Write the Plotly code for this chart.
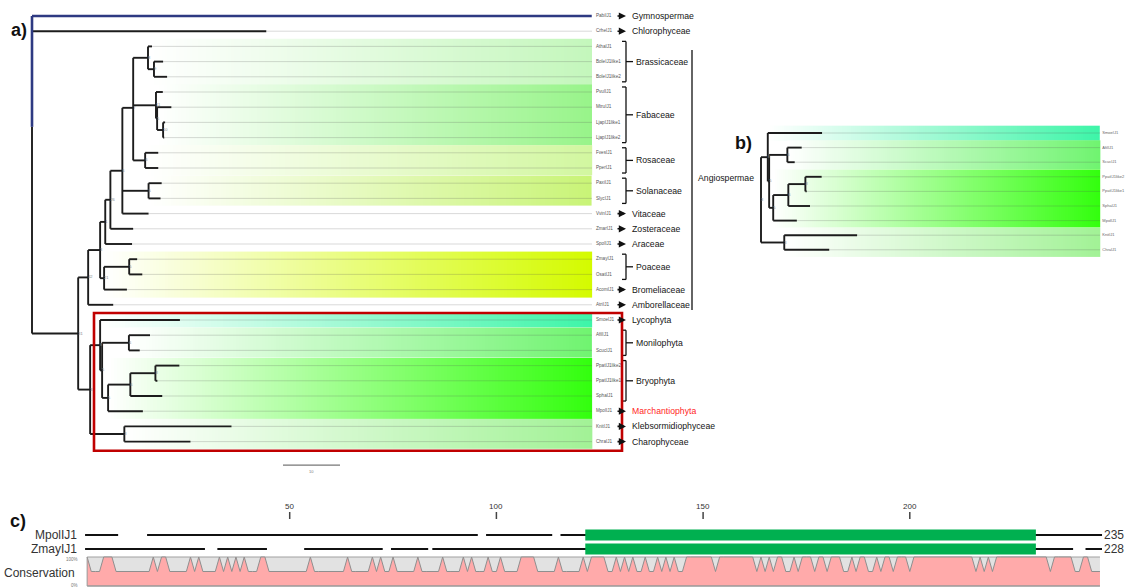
import plotly.graph_objects as go

# ======================= DATA =======================
# Tree clades: leaf = (name, branch length); clade = ([children], branch length, support)
BRASSICACEAE = ([("AthaIJ1", 0.7),
                 ([("BoleIJ1like1", 1.6), ("BoleIJ1like2", 2.3)], 1.05, 9)], 2.6, 8)
FABACEAE = ([("PvulIJ1", 1.2),
             ([("MtruIJ1", 2.5),
               ([("LjapIJ1like1", 0.35), ("LjapIJ1like2", 0.2)], 1.05, 10)], 0.2, 5)], 4.0, 11)
ROSACEAE = ([("FvesIJ1", 2.3), ("PperIJ1", 2.3)], 2.1, 6)
SOLANACEAE = ([("PaxiIJ1", 2.3), ("SlycIJ1", 2.1)], 4.6, 5)
EUDICOTS = ([BRASSICACEAE, FABACEAE, ROSACEAE], 1.9, 7)
CORE = ([EUDICOTS, SOLANACEAE, ("VvinIJ1", 4.6)], 2.1, 6)
N110 = ([CORE, ("ZmarIJ1", 4.0)], 0.9, 26)
N105 = ([N110, ("SpolIJ1", 4.7)], 0.9, 1)
POALES = ([([("ZmayIJ1", 1.4), ("OsatIJ1", 2.3)], 4.4, 5), ("AcomIJ1", 4.0)], 0.7, 21)
N100 = ([N105, POALES], 2.1, 3)
ANGIO = ([N100, ("AtriIJ1", 4.4)], 1.75, 42)
FERNS = ([("AfilIJ1", 3.7), ("ScucIJ1", 1.9)], 4.7, 6)
BRYO = ([([("PpatIJ1like2", 4.2), ("PpatIJ1like1", 0.35)], 4.4, 8), ("SphaIJ1", 5.6)], 3.9, 6)
BRYO_MPOL = ([BRYO, ("MpolIJ1", 6.1)], 1.05, 5)
LAND = ([("SmoeIJ1", 14.0), ([FERNS, BRYO_MPOL], 0.35, 5)], 1.75, 8)
CHARO = ([("KnitIJ1", 18.8), ("ChraIJ1", 11.6)], 6.0, 3)
NONSEED = ([LAND, CHARO], 2.1, 3)
ROOT2 = ([ANGIO, NONSEED], 8.1, 31)
TREE = ([("PabiIJ1", 98.2), ("CrheIJ1", 41.1), ROOT2], 0.0, None)

HIGHLIGHT_LEAF = "PabiIJ1"
SCALE_BAR = 10

GROUPS_A = [
    ("Gymnospermae", "PabiIJ1", "PabiIJ1"),
    ("Chlorophyceae", "CrheIJ1", "CrheIJ1"),
    ("Brassicaceae", "AthaIJ1", "BoleIJ1like2"),
    ("Fabaceae", "PvulIJ1", "LjapIJ1like2"),
    ("Rosaceae", "FvesIJ1", "PperIJ1"),
    ("Solanaceae", "PaxiIJ1", "SlycIJ1"),
    ("Vitaceae", "VvinIJ1", "VvinIJ1"),
    ("Zosteraceae", "ZmarIJ1", "ZmarIJ1"),
    ("Araceae", "SpolIJ1", "SpolIJ1"),
    ("Poaceae", "ZmayIJ1", "OsatIJ1"),
    ("Bromeliaceae", "AcomIJ1", "AcomIJ1"),
    ("Amborellaceae", "AtriIJ1", "AtriIJ1"),
    ("Lycophyta", "SmoeIJ1", "SmoeIJ1"),
    ("Monilophyta", "AfilIJ1", "ScucIJ1"),
    ("Bryophyta", "PpatIJ1like2", "SphaIJ1"),
    ("Marchantiophyta", "MpolIJ1", "MpolIJ1"),
    ("Klebsormidiophyceae", "KnitIJ1", "KnitIJ1"),
    ("Charophyceae", "ChraIJ1", "ChraIJ1"),
]
SUPER_GROUP = ("Angiospermae", "AthaIJ1", "AtriIJ1")
FOCUS_GROUP = "MpolIJ1"

BANDS_A = [("AthaIJ1", "BoleIJ1like2"), ("PvulIJ1", "LjapIJ1like2"), ("FvesIJ1", "PperIJ1"),
           ("PaxiIJ1", "SlycIJ1"), ("ZmayIJ1", "AcomIJ1"), ("SmoeIJ1", "SmoeIJ1"),
           ("AfilIJ1", "ScucIJ1"), ("PpatIJ1like2", "MpolIJ1"), ("KnitIJ1", "ChraIJ1")]
BAND_COLORS_A = ["#c4f7bc", "#98f48a", "#d2f7a0", "#c9f477", "#d4fb00",
                 "#3ef5a8", "#70f470", "#33ff0e", "#a2f296"]
BANDS_B = [("SmoeIJ1", "SmoeIJ1"), ("AfilIJ1", "ScucIJ1"), ("PpatIJ1like2", "MpolIJ1"),
           ("KnitIJ1", "ChraIJ1")]
BAND_COLORS_B = ["#3ef5a8", "#70f470", "#33ff0e", "#a2f296"]
LEAVES_B = ["SmoeIJ1", "AfilIJ1", "ScucIJ1", "PpatIJ1like2", "PpatIJ1like1",
            "SphaIJ1", "MpolIJ1", "KnitIJ1", "ChraIJ1"]

# Alignment (panel c)
ALN_LEN = 246
SEQ_NAMES = ["MpolIJ1", "ZmayIJ1"]
SEQ_SEGMENTS = [
    [(1, 8), (16, 95), (98, 113), (116, 246)],
    [(1, 29), (33, 44), (54, 72), (75, 83), (85, 239), (243, 246)],
]
DOMAIN = (122, 230)
RULER_TICKS = [50, 100, 150, 200]
CONSERVED_RUNS = [(1, 1), (5, 7), (17, 17), (19, 20), (26, 26), (28, 28), (33, 33), (35, 35),
                  (37, 37), (39, 39), (43, 44), (55, 55), (64, 64), (70, 70), (72, 72), (75, 75),
                  (81, 81), (87, 87), (92, 92), (94, 94), (98, 98), (101, 101), (106, 109),
                  (115, 115), (121, 121), (123, 126), (129, 129), (131, 131), (133, 133),
                  (136, 136), (139, 139), (141, 141), (143, 143), (146, 152), (154, 162),
                  (164, 164), (166, 166), (168, 169), (172, 172), (174, 176), (178, 179),
                  (181, 183), (186, 186), (188, 189), (192, 192), (194, 195), (197, 199),
                  (201, 215), (217, 217), (219, 219), (221, 233), (235, 239), (242, 243)]
LOW_CONSERVATION = 0.5

# ======================= GEOMETRY / STYLE =======================
W, H = 1129, 588
FN = "Liberation Sans, Arial, sans-serif"
FA = "Liberation Sans, Arial, sans-serif"
GROUP_FS = 8.7
A_X0, A_SC, A_Y0, A_DY = 32.0, 5.7, 16.0, 15.2
B_X0, B_SC, B_Y0, B_DY = 761.0, 3.876, 133.0, 14.6
C_X0, C_SC, C_Y0, C_SY = 83.0, 4.134, 586.0, 29.0
A_LABEL_PX, B_LABEL_PX = 592.0, 1100.0
TREE_COL, HL_COL = "#1c1c1c", "#2e3a82"


def layout_tree(node, x_parent, leaves, clades):
    if isinstance(node[0], str):
        name, bl = node
        info = {"x": x_parent + bl, "y": len(leaves), "leaf": name, "names": [name]}
        leaves.append(info)
        return info
    kids, bl, sup = node
    x = x_parent + bl
    ch = [layout_tree(k, x, leaves, clades) for k in kids]
    info = {"x": x, "y": sum(c["y"] for c in ch) / len(ch), "kids": ch, "sup": sup,
            "names": [n for c in ch for n in c["names"]]}
    clades.append(info)
    return info


def find_clade(node, names):
    if isinstance(node[0], str):
        return None
    leaves = []
    layout_tree(node, 0, leaves, [])
    if [l["leaf"] for l in leaves] == names:
        return node
    for k in node[0]:
        r = find_clade(k, names)
        if r is not None:
            return r
    return None


def tree_traces(node, x_parent, xa, ya, xend):
    leaves, clades = [], []
    layout_tree(node, x_parent, leaves, clades)
    bx, by, hx, hy, gx, gy = [], [], [], [], [], []
    for c in clades:
        ys = [k["y"] for k in c["kids"]]
        hl = [k for k in c["kids"] if k.get("leaf") == HIGHLIGHT_LEAF]
        if hl:
            hy0 = hl[0]["y"]
            hx += [c["x"], c["x"], None]; hy += [hy0, c["y"], None]
            other = max(ys) if hy0 <= c["y"] else min(ys)
            bx += [c["x"], c["x"], None]; by += [c["y"], other, None]
        else:
            bx += [c["x"], c["x"], None]; by += [min(ys), max(ys), None]
        for k in c["kids"]:
            if k.get("leaf") == HIGHLIGHT_LEAF:
                hx += [c["x"], k["x"], None]; hy += [k["y"], k["y"], None]
            else:
                bx += [c["x"], k["x"], None]; by += [k["y"], k["y"], None]
    for l in leaves:
        if l["x"] < xend:
            gx += [l["x"], xend, None]; gy += [l["y"], l["y"], None]
    tr = [go.Scatter(x=gx, y=gy, mode="lines", line=dict(color="rgba(80,80,80,0.22)", width=1),
                     hoverinfo="skip", xaxis=xa, yaxis=ya),
          go.Scatter(x=bx, y=by, mode="lines", line=dict(color=TREE_COL, width=1.9),
                     hoverinfo="skip", xaxis=xa, yaxis=ya)]
    if hx:
        tr.append(go.Scatter(x=hx, y=hy, mode="lines", line=dict(color=HL_COL, width=2.6),
                             hoverinfo="skip", xaxis=xa, yaxis=ya))
    sx = [c["x"] for c in clades if c["sup"] is not None]
    sy = [c["y"] for c in clades if c["sup"] is not None]
    st = [str(c["sup"]) for c in clades if c["sup"] is not None]
    tr.append(go.Scatter(x=sx, y=sy, mode="text", text=st, textposition="middle right",
                         textfont=dict(size=4, color="#888", family=FA), hoverinfo="skip",
                         xaxis=xa, yaxis=ya))
    return tr, leaves, clades


def band_traces(bands, colors, leaves, clades, xend, xa, ya):
    out = []
    idx = {l["leaf"]: l["y"] for l in leaves}
    for (a, b), col in zip(bands, colors):
        names = [l["leaf"] for l in leaves if idx[a] <= l["y"] <= idx[b]]
        cands = [c for c in clades if set(names) <= set(c["names"])]
        start = min(cands, key=lambda c: len(c["names"]))["x"]
        n = 160
        xs = [start + (xend - start) * k / n for k in range(n + 1)]
        z = [[k / (n - 1) for k in range(n)]]
        out.append(go.Heatmap(x=xs, y=[idx[a] - 0.5, idx[b] + 0.5], z=z, zmin=0, zmax=1,
                              colorscale=[[0, "#ffffff"], [1, col]], showscale=False,
                              hoverinfo="skip", xaxis=xa, yaxis=ya))
    return out


fig = go.Figure()
shapes, ann = [], []

# ---------- panel a ----------
a_end = (A_LABEL_PX - A_X0) / A_SC
la, ca = [], []
layout_tree(TREE, 0.0, la, ca)
for t in band_traces(BANDS_A, BAND_COLORS_A, la, ca, a_end, "x", "y"):
    fig.add_trace(t)
trs, la, ca = tree_traces(TREE, 0.0, "x", "y", a_end)
for t in trs:
    fig.add_trace(t)
rowA = {l["leaf"]: l["y"] for l in la}
fig.add_trace(go.Scatter(x=[a_end + 0.7] * len(la), y=[l["y"] for l in la], mode="text",
                         text=[l["leaf"] for l in la], textposition="middle right",
                         textfont=dict(size=4.6, color="#555", family=FN), hoverinfo="skip",
                         xaxis="x", yaxis="y"))

def P(px):
    return px / W

for name, a, b in GROUPS_A:
    col = "#ff1f1f" if a == FOCUS_GROUP else "#151515"
    if a == b:
        y = rowA[a]
        ann.append(dict(x=P(626), y=y, xref="paper", yref="y", ax=-10, ay=0, text="",
                        showarrow=True, arrowhead=2, arrowsize=0.9, arrowwidth=1.6,
                        arrowcolor="#111"))
        ann.append(dict(x=P(630), y=y, xref="paper", yref="y", text=name, showarrow=False,
                        xanchor="left", yanchor="middle",
                        font=dict(size=GROUP_FS, color=col, family=FN)))
    else:
        y0, y1 = rowA[a] - 0.33, rowA[b] + 0.33
        ym = (rowA[a] + rowA[b]) / 2
        for (xa0, ya0, xa1, ya1) in [(622, y0, 626, y0), (626, y0, 626, y1), (622, y1, 626, y1),
                                     (626, ym, 633, ym)]:
            shapes.append(dict(type="line", xref="paper", yref="y", x0=P(xa0), x1=P(xa1),
                               y0=ya0, y1=ya1, line=dict(color="#111", width=1.3)))
        ann.append(dict(x=P(634), y=ym, xref="paper", yref="y", text=name, showarrow=False,
                        xanchor="left", yanchor="middle",
                        font=dict(size=GROUP_FS, color=col, family=FN)))

sg, sa, sb = SUPER_GROUP
shapes.append(dict(type="line", xref="paper", yref="y", x0=P(692), x1=P(692),
                   y0=rowA[sa] + 0.24, y1=rowA[sb] + 0.35, line=dict(color="#111", width=1.3)))
ann.append(dict(x=P(696), y=(rowA[sa] + rowA[sb]) / 2 + 0.15, xref="paper", yref="y", text=sg,
                showarrow=False, xanchor="left", yanchor="middle",
                font=dict(size=GROUP_FS, color="#151515", family=FN)))

# red box around non-seed plants
shapes.append(dict(type="rect", xref="paper", yref="y", x0=P(94), x1=P(622),
                   y0=rowA["SmoeIJ1"] - 0.46, y1=rowA["ChraIJ1"] + 0.6,
                   line=dict(color="#c00000", width=2.6)))
# scale bar
sb0 = (283 - A_X0) / A_SC
shapes.append(dict(type="line", xref="x", yref="y", x0=sb0, x1=sb0 + SCALE_BAR,
                   y0=29.55, y1=29.55, line=dict(color="#777", width=1.2)))
ann.append(dict(x=sb0 + SCALE_BAR / 2, y=29.95, xref="x", yref="y", text=str(SCALE_BAR),
                showarrow=False, font=dict(size=4, color="#777", family=FA)))

# ---------- panel b ----------
sub = find_clade(TREE, LEAVES_B)
b_end = (B_LABEL_PX - B_X0) / B_SC
lb, cb = [], []
layout_tree(sub, -sub[1], lb, cb)
for t in band_traces(BANDS_B, BAND_COLORS_B, lb, cb, b_end, "x2", "y2"):
    fig.add_trace(t)
trs, lb, cb = tree_traces(sub, -sub[1], "x2", "y2", b_end)
for t in trs:
    fig.add_trace(t)
fig.add_trace(go.Scatter(x=[b_end + 0.6] * len(lb), y=[l["y"] for l in lb], mode="text",
                         text=[l["leaf"] for l in lb], textposition="middle right",
                         textfont=dict(size=4, color="#666", family=FN), hoverinfo="skip",
                         xaxis="x2", yaxis="y2"))

# ---------- panel c ----------
def vy(py):
    return (C_Y0 - py) / C_SY

pos = list(range(1, ALN_LEN + 1))
cons = [LOW_CONSERVATION] * ALN_LEN
for s, e in CONSERVED_RUNS:
    for p in range(s, e + 1):
        cons[p - 1] = 1.0
fig.add_trace(go.Scatter(x=[1, ALN_LEN], y=[1, 1], mode="lines", fill="tozeroy",
                         fillcolor="#e2e2e2", line=dict(color="#a0a0a0", width=1),
                         hoverinfo="skip", xaxis="x3", yaxis="y3"))
fig.add_trace(go.Scatter(x=pos, y=cons, mode="lines", fill="tozeroy", fillcolor="#ffaaaa",
                         line=dict(color="#8f8f8f", width=1), hoverinfo="skip",
                         xaxis="x3", yaxis="y3"))
shapes.append(dict(type="line", xref="x3", yref="y3", x0=1, x1=ALN_LEN, y0=0, y1=0,
                   line=dict(color="#999", width=1.5)))
shapes.append(dict(type="line", xref="x3", yref="y3", x0=1, x1=1, y0=0, y1=1,
                   line=dict(color="#999", width=1)))

row_py = [535, 549]
for name, segs, py in zip(SEQ_NAMES, SEQ_SEGMENTS, row_py):
    yv = vy(py)
    xs, ys = [], []
    for s, e in segs:
        xs += [s - 0.5, e + 0.5, None]; ys += [yv, yv, None]
    fig.add_trace(go.Scatter(x=xs, y=ys, mode="lines", line=dict(color="#111", width=2),
                             hoverinfo="skip", xaxis="x3", yaxis="y3"))
    shapes.append(dict(type="rect", xref="x3", yref="y3", x0=DOMAIN[0] - 0.5, x1=DOMAIN[1] + 0.5,
                       y0=yv - 5.6 / C_SY, y1=yv + 5.6 / C_SY, fillcolor="#00b050",
                       line=dict(width=0)))
    length = sum(e - s + 1 for s, e in segs)
    ann.append(dict(x=P(79), y=yv, xref="paper", yref="y3", text=name, showarrow=False,
                    xanchor="right", yanchor="middle", font=dict(size=12, color="#333", family=FA)))
    ann.append(dict(x=P(1102), y=yv, xref="paper", yref="y3", text=str(length), showarrow=False,
                    xanchor="left", yanchor="middle", font=dict(size=12, color="#333", family=FA)))

for t in RULER_TICKS:
    shapes.append(dict(type="line", xref="x3", yref="y3", x0=t, x1=t, y0=vy(519), y1=vy(512),
                       line=dict(color="#444", width=1.5)))
    ann.append(dict(x=t, y=vy(506), xref="x3", yref="y3", text=str(t), showarrow=False,
                    font=dict(size=8, color="#333", family=FA)))

ann.append(dict(x=P(77), y=vy(573), xref="paper", yref="y3", text="Conservation", showarrow=False,
                xanchor="right", yanchor="middle", font=dict(size=12, color="#333", family=FA)))
ann.append(dict(x=P(80), y=vy(559), xref="paper", yref="y3", text="100%", showarrow=False,
                xanchor="right", yanchor="middle", font=dict(size=4.5, color="#777", family=FA)))
ann.append(dict(x=P(80), y=vy(585), xref="paper", yref="y3", text="0%", showarrow=False,
                xanchor="right", yanchor="middle", font=dict(size=4.5, color="#777", family=FA)))

# panel letters
for txt, px, py in [("a)", 19, 30), ("b)", 743, 143), ("c)", 18, 521)]:
    ann.append(dict(x=P(px), y=1 - py / H, xref="paper", yref="paper", text=txt, showarrow=False,
                    xanchor="center", yanchor="middle",
                    font=dict(size=18, color="#111", family=FA, weight="bold")))

ax = dict(domain=[0, 1], visible=False, fixedrange=True, showgrid=False, zeroline=False)
fig.update_layout(
    width=W, height=H, margin=dict(l=0, r=0, t=0, b=0),
    paper_bgcolor="white", plot_bgcolor="rgba(0,0,0,0)", showlegend=False,
    xaxis=dict(ax, range=[-A_X0 / A_SC, (W - A_X0) / A_SC]),
    yaxis=dict(ax, range=[(H - A_Y0) / A_DY, -A_Y0 / A_DY]),
    xaxis2=dict(ax, range=[-B_X0 / B_SC, (W - B_X0) / B_SC], anchor="y2"),
    yaxis2=dict(ax, range=[(H - B_Y0) / B_DY, -B_Y0 / B_DY], anchor="x2"),
    xaxis3=dict(ax, range=[-C_X0 / C_SC, (W - C_X0) / C_SC], anchor="y3"),
    yaxis3=dict(ax, range=[(C_Y0 - H) / C_SY, C_Y0 / C_SY], anchor="x3"),
    shapes=shapes, annotations=ann,
)
fig.write_html("out.html", config={"displayModeBar": False},
               post_script="document.body.style.margin='0px';document.body.style.overflow='hidden';")
